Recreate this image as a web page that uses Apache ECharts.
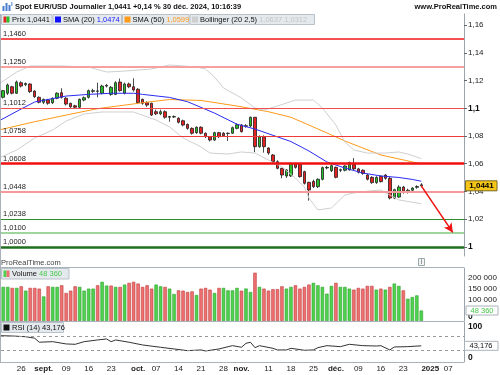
<!DOCTYPE html>
<html><head><meta charset="utf-8">
<script src="https://cdn.jsdelivr.net/npm/echarts@6/dist/echarts.min.js"></script>
<style>html,body{margin:0;padding:0;background:#fff}#c{width:500px;height:375px}</style>
</head><body><div id="c"></div>
<script>
// ---------- DATA ----------
const dates = [
'2024-08-20','2024-08-21','2024-08-22','2024-08-23','2024-08-26','2024-08-27','2024-08-28','2024-08-29','2024-08-30',
'2024-09-02','2024-09-03','2024-09-04','2024-09-05','2024-09-06','2024-09-09','2024-09-10','2024-09-11','2024-09-12','2024-09-13',
'2024-09-16','2024-09-17','2024-09-18','2024-09-19','2024-09-20','2024-09-23','2024-09-24','2024-09-25','2024-09-26','2024-09-27','2024-09-30',
'2024-10-01','2024-10-02','2024-10-03','2024-10-04','2024-10-07','2024-10-08','2024-10-09','2024-10-10','2024-10-11',
'2024-10-14','2024-10-15','2024-10-16','2024-10-17','2024-10-18','2024-10-21','2024-10-22','2024-10-23','2024-10-24','2024-10-25',
'2024-10-28','2024-10-29','2024-10-30','2024-10-31',
'2024-11-01','2024-11-04','2024-11-05','2024-11-06','2024-11-07','2024-11-08','2024-11-11','2024-11-12','2024-11-13','2024-11-14','2024-11-15',
'2024-11-18','2024-11-19','2024-11-20','2024-11-21','2024-11-22','2024-11-25','2024-11-26','2024-11-27','2024-11-28','2024-11-29',
'2024-12-02','2024-12-03','2024-12-04','2024-12-05','2024-12-06','2024-12-09','2024-12-10','2024-12-11','2024-12-12','2024-12-13',
'2024-12-16','2024-12-17','2024-12-18','2024-12-19','2024-12-20','2024-12-23','2024-12-24','2024-12-26','2024-12-27','2024-12-30','2024-12-31',
'2025-01-02','2025-01-03','2025-01-06','2025-01-07','2025-01-08','2025-01-09','2025-01-10','2025-01-13'];

const xTickLabels = [['2024-08-26','26'],['2024-09-02','sept.'],['2024-09-09','09'],['2024-09-16','16'],['2024-09-23','23'],
['2024-10-01','oct.'],['2024-10-07','07'],['2024-10-14','14'],['2024-10-21','21'],['2024-10-28','28'],
['2024-11-01','nov.'],['2024-11-11','11'],['2024-11-18','18'],['2024-11-25','25'],
['2024-12-02','déc.'],['2024-12-09','09'],['2024-12-16','16'],['2024-12-23','23'],['2025-01-02','2025'],['2025-01-08','07']];
const xBoldLabels = ['sept.','oct.','nov.','déc.','2025'];

// [open, close, low, high]
const candles = [
[1.1079,1.1127,1.1070,1.1132],[1.1108,1.1168,1.1095,1.1178],[1.1155,1.1108,1.1100,1.1162],[1.1108,1.1189,1.1103,1.1200],
[1.1184,1.1160,1.1150,1.1195],[1.1170,1.1178,1.1160,1.1186],[1.1175,1.1120,1.1110,1.1180],[1.1124,1.1083,1.1075,1.1130],
[1.1079,1.1043,1.1035,1.1085],[1.1043,1.1064,1.1030,1.1070],[1.1060,1.1036,1.1025,1.1068],[1.1040,1.1072,1.1030,1.1078],
[1.1072,1.1108,1.1065,1.1115],[1.1112,1.1079,1.1070,1.1144],[1.1072,1.1030,1.1020,1.1080],[1.1036,1.1011,1.1002,1.1040],
[1.1018,1.1007,1.0999,1.1025],[1.1007,1.1064,1.1000,1.1070],[1.1059,1.1076,1.1050,1.1085],[1.1079,1.1127,1.1070,1.1135],
[1.1122,1.1127,1.1110,1.1140],[1.1122,1.1125,1.1079,1.1184],[1.1108,1.1160,1.1100,1.1170],[1.1160,1.1165,1.1150,1.1175],
[1.1100,1.1151,1.1090,1.1160],[1.1100,1.1184,1.1095,1.1195],[1.1189,1.1127,1.1120,1.1214],[1.1108,1.1175,1.1100,1.1185],
[1.1175,1.1155,1.1145,1.1185],[1.1155,1.1132,1.1120,1.1216],[1.1137,1.1040,1.1030,1.1145],[1.1064,1.1036,1.1025,1.1070],
[1.1040,1.1023,1.1010,1.1050],[1.1036,1.0951,1.0944,1.1040],[1.0975,1.0960,1.0950,1.0990],[1.0960,1.0975,1.0950,1.0990],
[1.0975,1.0935,1.0925,1.0985],[1.0935,1.0940,1.0903,1.0945],[1.0937,1.0940,1.0930,1.0948],[1.0928,1.0899,1.0890,1.0935],
[1.0910,1.0879,1.0870,1.0918],[1.0884,1.0855,1.0845,1.0890],[1.0855,1.0820,1.0810,1.0862],[1.0824,1.0863,1.0815,1.0870],
[1.0863,1.0820,1.0812,1.0870],[1.0820,1.0795,1.0785,1.0825],[1.0795,1.0771,1.0760,1.0800],[1.0771,1.0824,1.0765,1.0830],
[1.0824,1.0795,1.0785,1.0830],[1.0820,1.0802,1.0795,1.0828],[1.0818,1.0820,1.0764,1.0825],[1.0820,1.0860,1.0815,1.0868],
[1.0855,1.0881,1.0848,1.0890],[1.0879,1.0831,1.0825,1.0885],[1.0870,1.0874,1.0860,1.0885],[1.0872,1.0935,1.0865,1.0940],
[1.0935,1.0723,1.0683,1.0937],[1.0723,1.0795,1.0715,1.0805],[1.0795,1.0723,1.0680,1.0805],[1.0713,1.0677,1.0665,1.0720],
[1.0663,1.0615,1.0605,1.0670],[1.0615,1.0567,1.0560,1.0625],[1.0567,1.0519,1.0495,1.0570],[1.0512,1.0555,1.0498,1.0562],
[1.0512,1.0598,1.0505,1.0608],[1.0598,1.0574,1.0565,1.0606],[1.0598,1.0507,1.0500,1.0605],[1.0543,1.0459,1.0450,1.0550],
[1.0466,1.0411,1.0334,1.0470],[1.0473,1.0435,1.0425,1.0485],[1.0435,1.0488,1.0425,1.0495],[1.0488,1.0572,1.0480,1.0580],
[1.0570,1.0574,1.0560,1.0585],[1.0550,1.0586,1.0540,1.0596],[1.0574,1.0502,1.0495,1.0580],[1.0553,1.0557,1.0540,1.0565],
[1.0553,1.0584,1.0545,1.0590],[1.0556,1.0608,1.0550,1.0615],[1.0594,1.0563,1.0555,1.0641],[1.0563,1.0539,1.0530,1.0570],
[1.0553,1.0530,1.0520,1.0560],[1.0519,1.0488,1.0480,1.0525],[1.0502,1.0464,1.0455,1.0510],[1.0464,1.0502,1.0455,1.0510],
[1.0510,1.0471,1.0465,1.0515],[1.0519,1.0495,1.0485,1.0525],[1.0495,1.0353,1.0343,1.0505],[1.0353,1.0413,1.0345,1.0420],
[1.0360,1.0432,1.0355,1.0445],[1.0432,1.0394,1.0385,1.0440],[1.0394,1.0409,1.0385,1.0420],[1.0409,1.0425,1.0400,1.0430],
[1.0430,1.0436,1.0420,1.0445],[1.0448,1.0441,1.0430,1.0460]];

// [day index, value]
const sma20 = [[-0.7,1.0908],[4,1.0995],[7,1.1045],[14,1.1088],[19,1.1100],[24,1.1108],[29,1.1108],[31,1.1100],[37,1.1078],
[41,1.1047],[47,1.0965],[52,1.0885],[56,1.0850],[60,1.0805],[64,1.0760],[68,1.0692],[72,1.0613],[76,1.0569],[80,1.0533],
[84,1.0512],[88,1.0501],[91,1.0487],[93,1.0474]];
const sma50 = [[-0.7,1.0843],[7,1.0903],[14,1.0951],[21,1.0997],[29,1.1031],[31,1.1040],[37,1.1063],[44,1.1056],[52,1.1016],
[59,1.0975],[64,1.0935],[68,1.0879],[72,1.0822],[76,1.0764],[84,1.0663],[93,1.0599]];
const bbUpper = [[-0.7,1.1175],[3,1.1261],[6,1.1305],[13,1.1305],[19,1.1297],[23,1.1261],[27,1.1268],[33,1.1283],[37,1.1312],
[43,1.1297],[45,1.1283],[47,1.1225],[49,1.1146],[53,1.1074],[56,1.1002],[58,1.0987],[61,1.1016],[65,1.1059],[69,1.1059],
[71,1.1002],[74,1.0879],[76,1.0757],[78,1.0699],[81,1.0677],[85,1.0677],[88,1.0685],[90,1.0670],[93,1.0637]];
const bbLower = [[-0.7,1.0641],[3,1.0699],[7,1.0786],[11,1.0843],[14,1.0908],[18,1.0959],[22,1.0973],[29,1.0973],[34,1.0915],
[37,1.0865],[40,1.0786],[44,1.0721],[46,1.0677],[50,1.0670],[53,1.0685],[56,1.0677],[59,1.0627],[62,1.0577],[65,1.0497],
[67,1.0432],[68,1.0353],[70,1.0267],[73,1.0281],[76,1.0375],[79,1.0396],[84,1.0411],[86,1.0375],[88,1.0339],[93,1.0312]];

const volumes = [157500,157500,152800,152800,160300,140200,152800,152800,149500,113600,
160300,157500,157500,165000,129400,140200,160300,157500,140200,149500,
149500,165000,180800,163600,163600,157500,157500,168200,176200,180800,
172900,157500,165000,149500,168200,160300,157500,149500,124800,141600,
140200,134100,136900,120100,149500,152800,144900,129400,152800,152800,
141600,141600,152800,140000,150000,134100,222900,157500,149500,140200,
147000,147000,160300,149500,157500,165000,149500,157500,168200,176200,
165000,157500,126200,162200,176200,157500,157500,149500,144900,152800,
149500,162200,162200,144900,149500,144900,157500,172900,162200,141600,
102800,110800,118200,48360];

const rsi = [[-0.7,71],[2,70],[5,68],[7,64],[8,53],[11,54.5],[14,48.3],[16,47.3],[18,54.5],[21,59.2],[23,61.9],[24,54.5],
[25,59.2],[28,52.9],[31,45.5],[35,39.2],[38,34.6],[41,30],[44,31.9],[45,29.1],[48,34.6],[51,43.7],[53,39.2],[54,50.1],
[55,52.9],[56,38.2],[57,43.6],[60,36.4],[61,31.9],[63,31.9],[64,36.4],[67,31],[69,31.9],[70,38.2],[72,43.6],[75,40.9],
[77,47.3],[80,43.6],[83,42.7],[84,43.6],[86,31.9],[87,40],[90,40.9],[93,43.176]];

const levels = [1.1675,1.1460,1.1250,1.1012,1.0758,1.0608,1.0448,1.0238,1.0100,1.0000];
const levelLabels = ['','1,1460','1,1250','1,1012','1,0758','1,0608','1,0448','1,0238','1,0100','1,0000'];
const priceTicks = [1.00,1.02,1.04,1.06,1.08,1.10,1.12,1.14,1.16];
const volTicks = [0,100000,150000,200000];
const rsiTicks = [0,100];
const rsiBands = [70,30];
const arrowFrom = [93,1.0441];
const arrowTo = [100,1.0105];
const lastPrice = 1.0441;
const titleText = 'Spot EUR/USD Journalier 1,0441 +0,14 % 30 déc. 2024, 10:16:39';

// ---------- STYLE ----------
const FF = '"Liberation Sans", Arial, sans-serif';
const levelStyles = [
 {color:'#ff1010',width:1.5},{color:'#f01818',width:1.5},{color:'#f7a0a0',width:2},{color:'#f05050',width:1},
 {color:'#f03a3a',width:1},{color:'#f01010',width:2.5},{color:'#f59a9a',width:2},{color:'#2e8b2e',width:1},
 {color:'#9fd59f',width:2},{color:'#1f6f1f',width:2.5}];
const fmt4 = v => v.toFixed(4).replace('.', ',');
const fmtPrice = v => (+v.toFixed(2)).toString().replace('.', ',');
const fmtVol = v => String(Math.round(v)).replace(/\B(?=(\d{3})+(?!\d))/g, ' ');
const xMap = {}; xTickLabels.forEach(p => xMap[p[0]] = p[1]);

const volData = volumes.map((v,i) => {
  const prev = i > 0 ? candles[i-1][1] : candles[i][0];
  const up = candles[i][1] >= prev;
  return {value: v, itemStyle: {color: up ? '#4fd34f' : '#ee7070', borderColor: up ? '#2f9f2f' : '#c04040', borderWidth: 0.6}};
});

const chart = echarts.init(document.getElementById('c'), null, {renderer:'canvas', width:500, height:375});

const axisLabelBase = {fontFamily: FF, fontSize: 8, color: '#222', margin: 4};
const boldRich = {fontWeight:'bold', fontFamily:FF, fontSize:8.5, color:'#111'};
const option = {
  animation: false,
  backgroundColor: '#ffffff',
  textStyle: {fontFamily: FF},
  grid: [
    {left:1, right:36, top:14, height:242},
    {left:1, right:36, top:268, height:53},
    {left:1, right:36, top:322, height:40}
  ],
  xAxis: [0,1,2].map(g => ({
    type:'category', gridIndex:g, data:dates, boundaryGap:true,
    axisLine:{show:false}, axisTick:{show:false}, splitLine:{show:false},
    axisLabel: g === 2 ? {
      show:true, fontFamily:FF, fontSize:8, color:'#222', margin:3,
      interval:(idx, val) => xMap[val] !== undefined,
      formatter: val => { const t = xMap[val] || ''; return xBoldLabels.includes(t) ? '{b|' + t + '}' : t; },
      rich:{b:{fontWeight:'bold', fontFamily:FF, fontSize:8, color:'#222'}}
    } : {show:false}
  })),
  yAxis: [
    {type:'value', gridIndex:0, position:'right', min:0.99351, max:1.16793, scale:true,
     axisLine:{show:true, lineStyle:{color:'#9aa4ae'}},
     axisTick:{show:true, length:3, customValues:priceTicks, lineStyle:{color:'#666'}},
     axisLabel:Object.assign({}, axisLabelBase, {customValues:priceTicks,
       formatter: v => { const s = fmtPrice(v); return (Math.abs(v-1)<1e-9 || Math.abs(v-1.1)<1e-9) ? '{b|'+s+'}' : s; },
       rich:{b:boldRich}}),
     splitLine:{show:false}},
    {type:'value', gridIndex:1, position:'right', min:0, max:244800,
     axisLine:{show:true, lineStyle:{color:'#9aa4ae'}},
     axisTick:{show:false},
     axisLabel:Object.assign({}, axisLabelBase, {customValues:volTicks,
       formatter: v => v === 0 ? '{z|0}' : fmtVol(v),
       rich:{z:Object.assign({padding:[0,0,9,0]}, boldRich)}}),
     splitLine:{show:false}},
    {type:'value', gridIndex:2, position:'right', min:-1, max:108.2,
     axisLine:{show:true, lineStyle:{color:'#9aa4ae'}},
     axisTick:{show:false},
     axisLabel:Object.assign({}, axisLabelBase, {customValues:rsiTicks,
       formatter: v => v === 0 ? '{z|0}' : '{h|' + v + '}',
       rich:{z:Object.assign({padding:[0,0,8,0]}, boldRich), h:Object.assign({padding:[3,0,0,0]}, boldRich)}}),
     splitLine:{show:false}}
  ],
  series: [
    {type:'line', xAxisIndex:0, yAxisIndex:0, data:[], z:1,
     markLine:{silent:true, symbol:['none','none'],
       data: levels.map((v,i) => ({yAxis:v, lineStyle:{type:'solid', color:levelStyles[i].color, width:levelStyles[i].width},
         label:{show: levelLabels[i] !== '', position:'insideStartTop', distance:[2,1], formatter: levelLabels[i],
                fontFamily:FF, fontSize:7.5, color:'#222'}}))}},
    {type:'candlestick', xAxisIndex:0, yAxisIndex:0, data:candles, barWidth:3, z:3,
     itemStyle:{color:'#27c027', color0:'#e42222', borderColor:'#1f1f1f', borderColor0:'#1f1f1f', borderWidth:0.8}},
    {type:'line', xAxisIndex:0, yAxisIndex:0, data:sma50, symbol:'none', z:4, lineStyle:{color:'#ff9a1a', width:1}},
    {type:'line', xAxisIndex:0, yAxisIndex:0, data:sma20, symbol:'none', z:4, lineStyle:{color:'#2b2bf0', width:1}},
    {type:'line', xAxisIndex:0, yAxisIndex:0, data:bbUpper, symbol:'none', z:4, lineStyle:{color:'#cfcfcf', width:1}},
    {type:'line', xAxisIndex:0, yAxisIndex:0, data:bbLower, symbol:'none', z:4, lineStyle:{color:'#cfcfcf', width:1},
     markLine:{silent:true, symbol:['none','arrow'], symbolSize:[7,9],
       lineStyle:{color:'#ee1111', width:1.5, type:'solid'}, label:{show:false},
       data:[[{coord:arrowFrom},{coord:arrowTo}]]}},
    {type:'bar', xAxisIndex:1, yAxisIndex:1, data:volData, barWidth:'76%'},
    {type:'line', xAxisIndex:2, yAxisIndex:2, data:rsi, symbol:'none', lineStyle:{color:'#333', width:1},
     markLine:{silent:true, symbol:['none','none'], label:{show:false},
       lineStyle:{color:'#999', type:[3,3], width:1}, data: rsiBands.map(v => ({yAxis:v}))}}
  ]
};
chart.setOption(option);

// ---------- ANNOTATIONS ----------
const yPrice = chart.convertToPixel({yAxisIndex:0}, lastPrice);
const yVol = chart.convertToPixel({yAxisIndex:1}, volumes[volumes.length-1]);
const yRsi = chart.convertToPixel({yAxisIndex:2}, rsi[rsi.length-1][1]);
const lastVolTxt = fmtVol(volumes[volumes.length-1]);
const lastRsiTxt = rsi[rsi.length-1][1].toFixed(3).replace('.', ',');
const boxBg = '#e4e9ed', boxBd = '#b9c1c9';
const t = (x, y, text, extra) => ({type:'text', x, y, silent:true, z:62,
  style:Object.assign({text, font:'7.5px ' + FF, fill:'#111', verticalAlign:'middle'}, extra||{})});
const r = (x, y, w, h, fill, stroke, z) => ({type:'rect', silent:true, z:z||49, shape:{x, y, width:w, height:h},
  style:{fill, stroke: stroke || null, lineWidth: stroke ? 1 : 0}});
const ln = (x1, y1, x2, y2, c) => ({type:'line', silent:true, z:40, shape:{x1, y1, x2, y2}, style:{stroke:c, lineWidth:1}});

const g = [
  // header
  r(2.5,6,2,5,'#4a7fd0'), r(5.5,3,2,8,'#4a7fd0'), r(8.5,5,2,6,'#4a7fd0'), r(11,2,1.5,4,'#8fb2e0'),
  t(15, 7, titleText, {font:'bold 7.5px ' + FF}),
  t(497, 7, 'www.ProRealTime.com', {font:'bold 7.5px ' + FF, align:'right'}),
  // legend boxes
  r(1.5,14.5,50.5,10,boxBg,boxBd), r(3.5,16.5,3,6,'#e42222'), r(6.5,16.5,3,6,'#27c027'),
  t(12, 19.8, 'Prix ' + fmt4(lastPrice)),
  r(53,14.5,68.5,10,boxBg,boxBd), r(55,16.5,6,6,'#1010ff'),
  t(63, 19.8, '', {text:'{a|SMA (20) }{b|' + fmt4(sma20[sma20.length-1][1]) + '}',
     rich:{a:{font:'7.5px ' + FF, fill:'#111'}, b:{font:'7.5px ' + FF, fill:'#1a1aff'}}}),
  r(122.5,14.5,66.5,10,boxBg,boxBd), r(124.5,16.5,6,6,'#ff9a1a'),
  t(132.5, 19.8, '', {text:'{a|SMA (50) }{b|' + fmt4(sma50[sma50.length-1][1]) + '}',
     rich:{a:{font:'7.5px ' + FF, fill:'#111'}, b:{font:'7.5px ' + FF, fill:'#ff9a1a'}}}),
  r(190,14.5,124.5,10,boxBg,boxBd), r(192,16.5,6,6,'#cfcfcf'),
  t(200, 19.8, '', {text:'{a|Bollinger (20 2,5) }{b|' + fmt4(bbUpper[bbUpper.length-1][1]) + ' ' + fmt4(bbLower[bbLower.length-1][1]) + '}',
     rich:{a:{font:'7.5px ' + FF, fill:'#111'}, b:{font:'7.5px ' + FF, fill:'#c4c4c4'}}}),
  // panel frame lines
  ln(0.5,14,0.5,362,'#a9b1b9'),
  ln(0,267.5,464,267.5,'#a9b1b9'),
  ln(0,321.5,464,321.5,'#a9b1b9'),
  ln(0,362.5,464,362.5,'#a9b1b9'),
  // footer texts
  t(1, 262.5, 'ProRealTime.com', {fill:'#444'}),
  r(418.5,258.5,6,7,'#f4f4f4','#9aa'), t(421.5, 262.2, 'i', {align:'center', font:'6.5px ' + FF, fill:'#555'}),
  // volume legend
  r(1.5,268.5,67.5,10.5,boxBg,boxBd), r(3.5,270.5,3,6.5,'#4fd34f'), r(6.5,270.5,3,6.5,'#ee7070'),
  t(12, 274, '', {text:'{a|Volume }{b|' + lastVolTxt + '}',
     rich:{a:{font:'7.5px ' + FF, fill:'#111'}, b:{font:'7.5px ' + FF, fill:'#49c849'}}}),
  // RSI legend
  r(1.5,322.5,62,10,boxBg,boxBd), r(3.5,324.5,6,6,'#111'),
  t(12, 327.8, 'RSI (14) ' + lastRsiTxt),
  // right value boxes
  r(465.5, yPrice-5, 31.5, 10, '#f5c518', '#7a6a20', 60),
  t(481.5, yPrice, fmt4(lastPrice), {align:'center', font:'bold 8px ' + FF, fill:'#000'}),
  r(466, yVol-4.5, 32, 9, '#ffffff', '#aab2ba', 60),
  t(482, yVol, lastVolTxt, {align:'center', fill:'#45c445'}),
  r(464.5, yRsi-4.5, 33.5, 9, '#ffffff', '#aab2ba', 60),
  t(481, yRsi, lastRsiTxt, {align:'center', fill:'#111'})
];
chart.setOption({graphic: g});
</script></body></html>
